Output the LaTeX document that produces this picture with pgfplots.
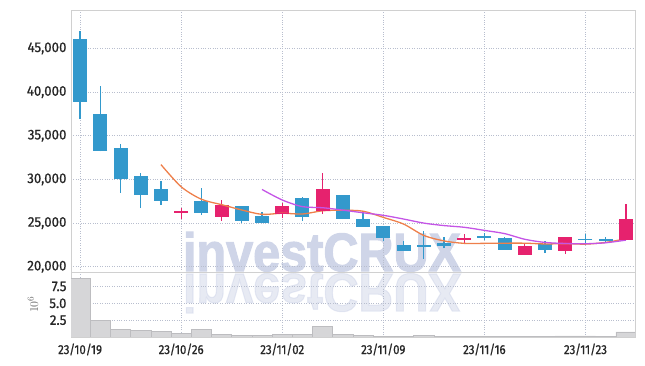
\documentclass[border=0pt]{standalone}
\usepackage{fontspec}
\setmainfont{Fira Sans}
\newfontfamily\ytfont{Fira Sans}[FakeStretch=0.95, FakeBold=0.8]
\newfontfamily\xtfont{Fira Sans}[FakeStretch=0.88, FakeBold=0.8]
\newfontfamily\wmfont{Liberation Sans}[FakeStretch=0.9, FakeBold=2]
\usepackage{pgfplots}
\pgfplotsset{compat=1.18}
\usepackage{pgfplotstable}
\definecolor{cblue}{HTML}{3399CC}
\definecolor{cpink}{HTML}{E6226E}
\definecolor{corange}{HTML}{EE7F4A}
\definecolor{cpurple}{HTML}{C455E6}
\definecolor{wm}{HTML}{CFD5E8}
\definecolor{gridc}{HTML}{B8BECE}
\definecolor{framec}{HTML}{D0D0D0}
\definecolor{volc}{HTML}{D6D6D8}
\definecolor{voledge}{HTML}{BDBDC0}
\definecolor{tickc}{HTML}{262626}

% down candles (close < open): x open high low close
\pgfplotstableread{
x o h l c
0 46050 47050 36900 39000
1 37500 40700 33200 33350
2 33600 34100 28500 30150
3 30400 30700 26700 28350
4 28950 29800 27100 27650
6 27550 29050 25950 26200
8 26950 27000 25000 25300
9 25800 26250 25000 25150
11 27900 28000 25250 25750
13 28200 28250 25450 25600
14 25450 26200 24600 24600
15 24650 24650 22900 23400
16 22500 22900 21950 21950
17 22450 24150 20900 22400
18 22750 23400 22100 22450
20 23400 23850 23050 23400
21 23250 23400 22000 22050
23 22550 22900 21550 22000
25 23150 23750 22450 23100
26 23050 23450 22750 23050
}\down
% up candles (close >= open)
\pgfplotstableread{
x o h l c
5 26300 26750 25450 26300
7 25750 27700 25250 27050
10 26100 27250 25550 26950
12 26500 30700 26050 28900
19 23200 23750 22750 23200
22 21450 22750 21450 22400
24 21850 23450 21450 23400
27 23200 27150 23200 25450
}\up
% 5-day moving average
\pgfplotstableread{
x m
4 31700
5 29160
6 27730
7 27110
8 26500
9 26000
10 26130
11 26040
12 26410
13 26470
14 26360
15 25650
16 24890
17 23590
18 22960
19 22680
20 22680
21 22700
22 22700
23 22610
24 22650
25 22590
26 22790
27 23200
}\maf
% 10-day moving average
\pgfplotstableread{
x m
9 28850
10 27645
11 26885
12 26760
13 26485
14 26180
15 25890
16 25465
17 25000
18 24715
19 24520
20 24165
21 23795
22 23145
23 22785
24 22665
25 22635
26 22745
27 23050
}\mat
% volume (millions)
\pgfplotstableread{
x v
0 8.75
1 2.5
2 1.15
3 0.95
4 0.8
5 0.5
6 1.1
7 0.35
8 0.2
9 0.2
10 0.35
11 0.35
12 1.55
13 0.35
14 0.2
15 0.1
16 0.1
17 0.2
18 0.1
19 0.1
20 0.1
21 0.1
22 0.05
23 0.1
24 0.15
25 0.15
26 0.1
27 0.75
}\vol

\pgfplotsset{
  common/.style={
    scale only axis,
    width=564pt,
    xmin=-0.45, xmax=27.45,
    xtick={0,5,10,15,20,25},
    major tick length=0pt,
    grid=major,
    major grid style={dotted, color=gridc, line width=0.7pt},
    axis line style={color=framec, line width=0.8pt},
    scaled y ticks=false,
    yticklabel style={font=\ytfont\fontsize{14}{14}\selectfont, text=tickc, xshift=-1pt},
    xticklabel style={font=\xtfont\fontsize{13}{13}\selectfont, text=tickc, yshift=-3pt},
    clip=true,
  },
  wick/.style={draw=none, mark=none, forget plot,
    error bars/.cd, y dir=plus, y explicit, error mark=none,
    error bar style={draw=#1, line width=1.3pt}},
  body/.style={draw=none, mark=-, mark size=7pt, mark options={draw=#1, line width=1.6pt}, forget plot,
    error bars/.cd, y dir=plus, y explicit, error mark=none,
    error bar style={draw=#1, line width=14pt}},
}

\begin{document}
\begin{tikzpicture}
\path[use as bounding box] (0pt,0pt) rectangle (645pt,-366pt);
\node[anchor=base, text=wm, inner sep=0pt, font=\wmfont\bfseries\fontsize{54}{54}\selectfont] at (322pt,-271pt) {investCRUX};
\node[anchor=base, text=wm, opacity=0.5, yscale=-1, inner sep=0pt, font=\wmfont\bfseries\fontsize{54}{54}\selectfont] at (322pt,-274pt) {investCRUX};

\begin{axis}[common,
  at={(71pt,-10pt)}, anchor=north west,
  height=262pt,
  ymin=19400, ymax=49400,
  ytick={20000,25000,30000,35000,40000,45000},
  yticklabels={{20,000},{25,000},{30,000},{35,000},{40,000},{45,000}},
  xticklabels={},
]
% wicks
\addplot[wick=cblue] table[x=x, y=l, y error plus expr=\thisrow{h}-\thisrow{l}] {\down};
\addplot[wick=cpink] table[x=x, y=l, y error plus expr=\thisrow{h}-\thisrow{l}] {\up};
% bodies
\addplot[body=cblue] table[x=x, y=c, y error plus expr=\thisrow{o}-\thisrow{c}] {\down};
\addplot[body=cpink] table[x=x, y=o, y error plus expr=\thisrow{c}-\thisrow{o}] {\up};
% moving averages
\addplot[smooth, color=corange, line width=1.3pt, mark=none] table[x=x, y=m] {\maf};
\addplot[smooth, color=cpurple, line width=1.3pt, mark=none] table[x=x, y=m] {\mat};
\end{axis}

\begin{axis}[common,
  at={(71pt,-272pt)}, anchor=north west,
  height=65pt,
  ymin=0, ymax=9.65,
  ytick={2.5,5,7.5},
  yticklabels={2.5,5.0,7.5},
  xticklabels={23/10/19,23/10/26,23/11/02,23/11/09,23/11/16,23/11/23},
  ylabel={$10^6$},
  ylabel style={at={(rel axis cs:0,0.5)}, anchor=center, yshift=38pt, text=black!60, font=\fontsize{13}{13}\selectfont},
]
\addplot[ybar, bar width=1, fill=volc, draw=voledge, line width=0.6pt] table[x=x, y=v] {\vol};
\end{axis}
\end{tikzpicture}
\end{document}
